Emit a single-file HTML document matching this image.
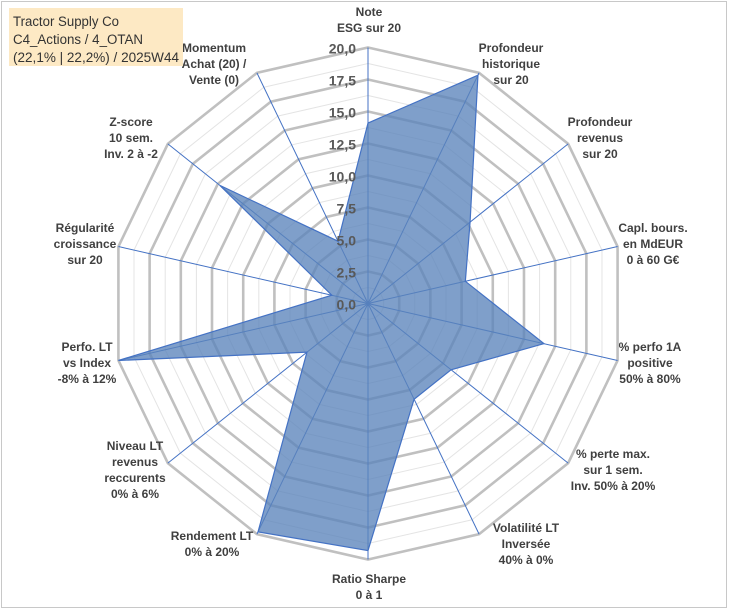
<!DOCTYPE html>
<html><head><meta charset="utf-8"><style>
html,body{margin:0;padding:0;background:#fff}
svg{display:block}
text{font-family:"Liberation Sans",Arial,sans-serif}
</style></head><body>
<svg id="chart" width="729" height="610" viewBox="0 0 729 610" xmlns="http://www.w3.org/2000/svg">
<rect x="1.5" y="1.5" width="725" height="606" fill="#fff" stroke="#c8c8c8" stroke-width="1"/>
<g id="grid"></g>
<g id="axes"></g>
<g id="series"></g>
<g id="ticks"></g>
<g id="labels"></g>
<g>
<rect x="9" y="8" width="174" height="58" fill="#fde9c4"/>
<text x="13" y="26" font-size="13.5" fill="#333" textLength="106" lengthAdjust="spacingAndGlyphs">Tractor Supply Co</text>
<text x="13" y="44" font-size="13.5" fill="#333" textLength="130" lengthAdjust="spacingAndGlyphs">C4_Actions / 4_OTAN</text>
<text x="13" y="62" font-size="13.5" fill="#333" textLength="166" lengthAdjust="spacingAndGlyphs">(22,1% | 22,2%) / 2025W44</text>
</g>
</svg>
<script>
const categories = [
 ["Note","ESG sur 20"],
 ["Profondeur","historique","sur 20"],
 ["Profondeur","revenus","sur 20"],
 ["Capl. bours.","en MdEUR","0 à 60 G€"],
 ["% perfo 1A","positive","50% à 80%"],
 ["% perte max.","sur 1 sem.","Inv. 50% à 20%"],
 ["Volatilité LT","Inversée","40% à 0%"],
 ["Ratio Sharpe","0 à 1"],
 ["Rendement LT","0% à 20%"],
 ["Niveau LT","revenus","reccurents","0% à 6%"],
 ["Perfo. LT","vs Index","-8% à 12%"],
 ["Régularité","croissance","sur 20"],
 ["Z-score","10 sem.","Inv. 2 à -2"],
 ["Momentum","Achat (20) /","Vente (0)"]
];
const values = [14.1, 19.8, 10.2, 7.8, 14.1, 8.3, 8.3, 19.3, 19.8, 6.1, 20, 2.9, 14.8, 5.4];
const tickValues = [0, 2.5, 5, 7.5, 10, 12.5, 15, 17.5, 20];
const tickLabels = ["0,0","2,5","5,0","7,5","10,0","12,5","15,0","17,5","20,0"];
const labelPos = [[369,12],[511,48],[600,122],[653,228],[650,347],[613,454],[526,528],[369,579],[212,536],[135,446],[87,347],[85,228],[131,122],[214,48]];

const NS="http://www.w3.org/2000/svg";
const cx=368, cy=303.5, R=256, vmax=20, n=categories.length;
function ang(i){return i*2*Math.PI/n;}
function pt(i,v){const r=v/vmax*R;return [cx+r*Math.sin(ang(i)), cy-r*Math.cos(ang(i))];}
function mk(tag,attrs,parent){const e=document.createElementNS(NS,tag);for(const k in attrs)e.setAttribute(k,attrs[k]);parent.appendChild(e);return e;}

const grid=document.getElementById('grid');
for(let s=1;s<=16;s++){
  const v=s*1.25;
  const pts=[];for(let i=0;i<n;i++)pts.push(pt(i,v).join(','));
  const major=s%2===0;
  const g=mk('polygon',{points:pts.join(' '),fill:'none',stroke:major?'#c0c0c0':'#e4e4e4','stroke-width':major?2.6:1},grid);
  
  
}
const axes=document.getElementById('axes');
for(let i=0;i<n;i++){
  const p=pt(i,vmax);
  const l=mk('line',{x1:cx,y1:cy,x2:p[0],y2:p[1],stroke:'#4472c4','stroke-width':1},axes);
  
  
}
const series=document.getElementById('series');
const sp=values.map((v,i)=>pt(i,v).join(',')).join(' ');
const poly=mk('polygon',{points:sp,fill:'#5b84bb','fill-opacity':0.78,stroke:'#4472c4','stroke-width':1.2},series);



const ticks=document.getElementById('ticks');
tickValues.forEach((v,k)=>{
  const p=pt(0,v);
  const t=mk('text',{x:cx-12,y:p[1]+6,'text-anchor':'end','font-size':14,'font-weight':'bold',fill:'#595959'},ticks);
  t.textContent=tickLabels[k];
  
  
});
const labels=document.getElementById('labels');
categories.forEach((lines,i)=>{
  const t=mk('text',{x:labelPos[i][0],y:labelPos[i][1]+4,'text-anchor':'middle','font-size':12,'font-weight':'bold',fill:'#404040'},labels);
  
  
  lines.forEach((ln,j)=>{const s=mk('tspan',{x:labelPos[i][0],dy:j===0?0:16},t);s.textContent=ln;});
});
</script>
</body></html>
